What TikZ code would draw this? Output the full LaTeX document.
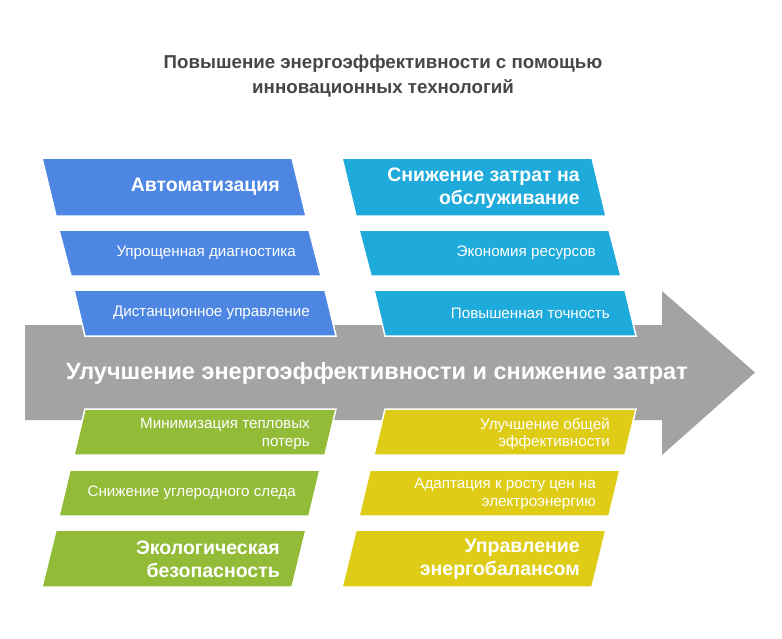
\documentclass[tikz,border=0pt]{standalone}
\usepackage{fontspec}
\setmainfont{Liberation Sans}
\definecolor{spinegray}{RGB}{163,163,163}
\definecolor{titlegray}{RGB}{70,70,70}
\definecolor{autoblue}{RGB}{77,135,227}
\definecolor{costcyan}{RGB}{30,170,218}
\definecolor{ecogreen}{RGB}{146,188,56}
\definecolor{balyellow}{RGB}{223,204,23}
\begin{document}
\begin{tikzpicture}[x=1pt,y=-1pt]
	\tikzset{
		bone/.style={draw=white,line width=1.5pt},
		small label/.style={anchor=east,align=right,inner sep=0,text=white,
			font=\fontsize{15.2}{17.5}\selectfont},
		big label/.style={anchor=east,align=right,inner sep=0,text=white,
			font=\bfseries\fontsize{19.5}{23.5}\selectfont}
	}
	\useasboundingbox (0,0) rectangle (782,638);
	% title
	\node(title)[align=center,text=titlegray,font=\bfseries\fontsize{18.7}{24.5}\selectfont]
		at (383,76) {Повышение энергоэффективности с помощью\\инновационных технологий};
	% spine arrow
	\fill[spinegray] (25,325) -- (662,325) -- (662,291) -- (755,372.5)
		-- (662,455) -- (662,420) -- (25,420) -- cycle;
	\node(effect)[text=white,font=\bfseries\fontsize{23.5}{27}\selectfont] at (377,373.5)
		{Улучшение энергоэффективности и снижение затрат};
	% upper left bones
	\fill[autoblue,bone] (42,158) -- ++(250,0) -- ++(14,58) -- ++(-250,0) -- cycle;
	\fill[autoblue,bone] (59,230) -- ++(250,0) -- ++(12,46) -- ++(-250,0) -- cycle;
	\fill[autoblue,bone] (74,290) -- ++(251,0) -- ++(11,46) -- ++(-251,0) -- cycle;
	\node(auto)[big label] at (280,187) {Автоматизация};
	\node(diag)[small label] at (296,253) {Упрощенная диагностика};
	\node(remote)[small label] at (310,313) {Дистанционное управление};
	% upper right bones
	\fill[costcyan,bone] (342,158) -- ++(250,0) -- ++(14,58) -- ++(-250,0) -- cycle;
	\fill[costcyan,bone] (359,230) -- ++(250,0) -- ++(12,46) -- ++(-250,0) -- cycle;
	\fill[costcyan,bone] (374,290) -- ++(251,0) -- ++(11,46) -- ++(-251,0) -- cycle;
	\node(cost)[big label] at (580,188) {Снижение затрат на\\обслуживание};
	\node(saving)[small label] at (596,253) {Экономия ресурсов};
	\node(precision)[small label] at (610,313) {Повышенная точность};
	% lower left bones
	\fill[ecogreen,bone] (85,409) -- ++(251,0) -- ++(-11,46) -- ++(-251,0) -- cycle;
	\fill[ecogreen,bone] (70,470) -- ++(250,0) -- ++(-11,46) -- ++(-250,0) -- cycle;
	\fill[ecogreen,bone] (56,530) -- ++(250,0) -- ++(-14,57) -- ++(-250,0) -- cycle;
	\node(heat)[small label] at (310,434) {Минимизация тепловых\\потерь};
	\node(carbon)[small label] at (296,493) {Снижение углеродного следа};
	\node(eco)[big label] at (280,559.5) {Экологическая\\безопасность};
	% lower right bones
	\fill[balyellow,bone] (385,409) -- ++(251,0) -- ++(-11,46) -- ++(-251,0) -- cycle;
	\fill[balyellow,bone] (370,470) -- ++(250,0) -- ++(-11,46) -- ++(-250,0) -- cycle;
	\fill[balyellow,bone] (356,530) -- ++(250,0) -- ++(-14,57) -- ++(-250,0) -- cycle;
	\node(overall)[small label] at (610,434) {Улучшение общей\\эффективности};
	\node(tariff)[small label] at (596,494) {Адаптация к росту цен на\\электроэнергию};
	\node(balance)[big label] at (580,559.5) {Управление\\энергобалансом};
\end{tikzpicture}
\end{document}
